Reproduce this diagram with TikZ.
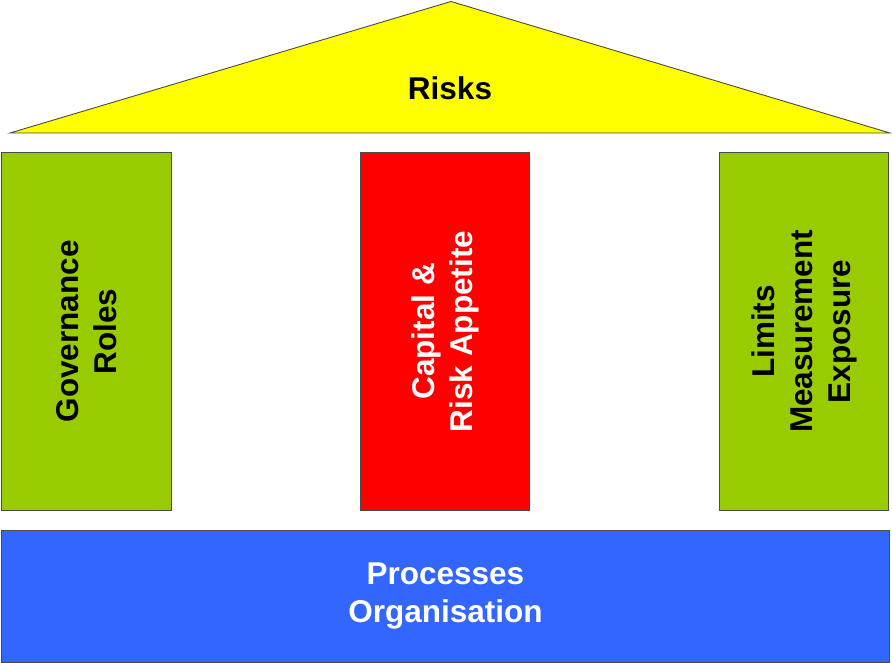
\documentclass[tikz,border=0pt]{standalone}
\usepackage{fontspec}
\setmainfont{Liberation Sans}
\definecolor{pgreen}{HTML}{99CC00}
\definecolor{pred}{HTML}{FF0000}
\definecolor{pblue}{HTML}{3366FF}
\definecolor{pyellow}{HTML}{FFFF00}
\definecolor{edge}{HTML}{4A4A4A}
\tikzset{
  block/.style={draw=edge, line width=0.9pt, inner sep=0pt},
  lbl/.style={font=\fontsize{31.5}{38}\selectfont\bfseries, align=center, inner sep=0pt},
}
\begin{document}
\begin{tikzpicture}[x=1pt,y=-1pt]
\useasboundingbox (0,0) rectangle (892,663);
% roof
\draw[block, fill=pyellow, line join=miter] (10,133) -- (451,1.5) -- (890,133) -- cycle;
\node[lbl, text=black] (roof) at (450,88) {Risks};
% pillars
\node[block, fill=pgreen, minimum width=170pt, minimum height=358pt, anchor=north west] (gov) at (1,152) {};
\node[block, fill=pred, minimum width=169pt, minimum height=358pt, anchor=north west] (cap) at (360,152) {};
\node[block, fill=pgreen, minimum width=169pt, minimum height=358pt, anchor=north west] (lim) at (719,152) {};
\node[lbl, rotate=90, text=black] (govt) at (gov.center) {Governance\\Roles};
\node[lbl, rotate=90, text=white] (capt) at (cap.center) {Capital \&\\Risk Appetite};
\node[lbl, rotate=90, text=black] (limt) at (lim.center) {Limits\\Measurement\\Exposure};
% base
\node[block, fill=pblue, minimum width=888pt, minimum height=132pt, anchor=north west] (base) at (1,530) {};
\node[lbl, text=white] (baset) at (base.center) {Processes\\Organisation};
\end{tikzpicture}
\end{document}
